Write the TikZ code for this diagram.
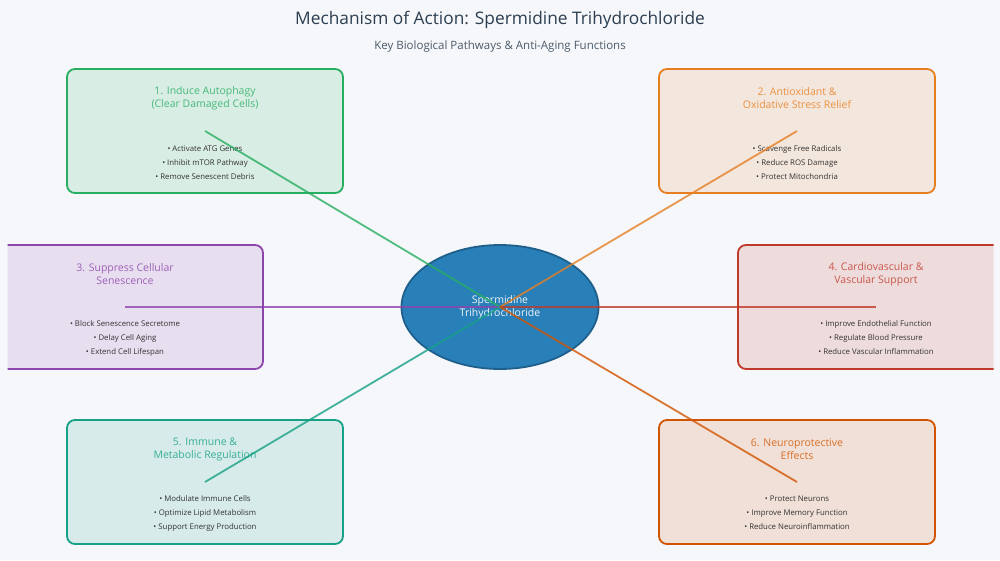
\documentclass[tikz,border=0pt]{standalone}
\usepackage{fontspec}
\setmainfont{Open Sans}
\usetikzlibrary{shapes.geometric}
\definecolor{bg}{HTML}{F5F7FA}
\definecolor{cA}{HTML}{27AE60}
\definecolor{cB}{HTML}{E67E22}
\definecolor{cC}{HTML}{8E44AD}
\definecolor{cD}{HTML}{C0392B}
\definecolor{cE}{HTML}{16A085}
\definecolor{cF}{HTML}{D35400}
\definecolor{txt}{HTML}{2C3E50}
\definecolor{bul}{HTML}{333333}
\definecolor{hub}{HTML}{2980B9}
\definecolor{hubb}{HTML}{1F5F8B}
\tikzset{
  panel/.style={draw=#1, fill=#1!14!bg, line width=1.8pt, rounded corners=8pt, minimum width=276pt, minimum height=124pt, inner sep=0pt},
  ptitle/.style={text=#1!85!white, align=center, font=\fontsize{10.5}{13}\selectfont, inner sep=0pt},
  plist/.style={text=bul, align=center, font=\fontsize{7.8}{14}\selectfont, inner sep=0pt},
  link/.style={draw=#1, draw opacity=0.8, line width=1.8pt}
}
\begin{document}
\begin{tikzpicture}[x=1pt,y=-1pt]
\useasboundingbox (0,0) rectangle (1000,560);
\fill[bg] (0,0) rectangle (1000,560);
\node[text=txt, font=\fontsize{17.3}{22}\selectfont, inner sep=0pt] (title) at (500,20) {Mechanism of Action: Spermidine Trihydrochloride};
\node[text=txt!85!white, font=\fontsize{11.5}{14}\selectfont, inner sep=0pt] (sub) at (500,46.5) {Key Biological Pathways \& Anti-Aging Functions};

\node[panel=cA] (b1) at (205,131) {};
\node[panel=cB] (b2) at (797,131) {};
\begin{scope}
\clip (7.5,0) rectangle (993.5,560);
\node[panel=cC] (b3) at (125,307) {};
\node[panel=cD] (b4) at (876,307) {};
\end{scope}
\node[panel=cE] (b5) at (205,482) {};
\node[panel=cF] (b6) at (797,482) {};

\node[ptitle=cA] (t1) at (205,98.5) {1. Induce Autophagy\\(Clear Damaged Cells)};
\node[ptitle=cB] (t2) at (797,98.5) {2. Antioxidant \&\\Oxidative Stress Relief};
\node[ptitle=cC] (t3) at (125,274) {3. Suppress Cellular\\Senescence};
\node[ptitle=cD] (t4) at (876,274) {4. Cardiovascular \&\\Vascular Support};
\node[ptitle=cE] (t5) at (205,449.5) {5. Immune \&\\Metabolic Regulation};
\node[ptitle=cF] (t6) at (797,449.5) {6. Neuroprotective\\Effects};

\node[plist] (l1) at (205,163) {• Activate ATG Genes\\• Inhibit mTOR Pathway\\• Remove Senescent Debris};
\node[plist] (l2) at (797,163) {• Scavenge Free Radicals\\• Reduce ROS Damage\\• Protect Mitochondria};
\node[plist] (l3) at (125,338) {• Block Senescence Secretome\\• Delay Cell Aging\\• Extend Cell Lifespan};
\node[plist] (l4) at (876,338) {• Improve Endothelial Function\\• Regulate Blood Pressure\\• Reduce Vascular Inflammation};
\node[plist] (l5) at (205,513) {• Modulate Immune Cells\\• Optimize Lipid Metabolism\\• Support Energy Production};
\node[plist] (l6) at (797,513) {• Protect Neurons\\• Improve Memory Function\\• Reduce Neuroinflammation};

\node[ellipse, draw=hubb, fill=hub, line width=1.8pt, minimum width=197pt, minimum height=124pt, inner sep=0pt] (hub) at (500,307) {};
\node[text=white!92!hub, align=center, font=\fontsize{10.5}{13}\selectfont, inner sep=0pt] (hubt) at (500,307) {Spermidine\\Trihydrochloride};

\draw[link=cA] (hub.center) -- (b1.center);
\draw[link=cB] (hub.center) -- (b2.center);
\draw[link=cC] (hub.center) -- (b3.center);
\draw[link=cD] (hub.center) -- (b4.center);
\draw[link=cE] (hub.center) -- (b5.center);
\draw[link=cF] (hub.center) -- (b6.center);
\end{tikzpicture}
\end{document}
